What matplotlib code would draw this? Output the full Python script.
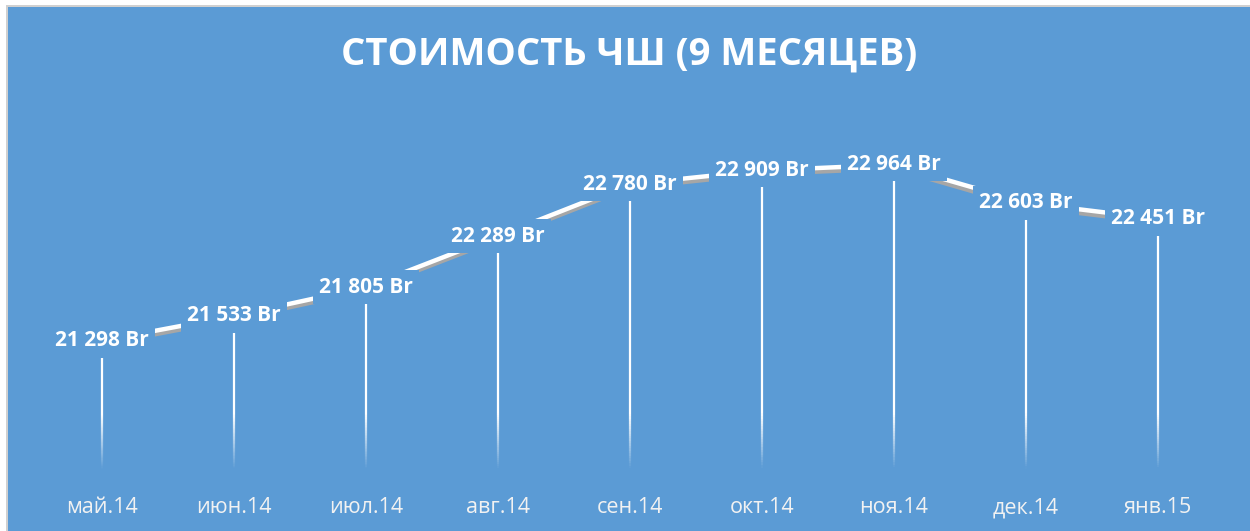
import numpy as np
import matplotlib
matplotlib.use('Agg')
import matplotlib.pyplot as plt
import matplotlib.patheffects as pe
from matplotlib.collections import LineCollection
from matplotlib.patches import Rectangle

''' Data '''
months = ['май.14', 'июн.14', 'июл.14', 'авг.14', 'сен.14',
          'окт.14', 'ноя.14', 'дек.14', 'янв.15']
cost = [21298, 21533, 21805, 22289, 22780, 22909, 22964, 22603, 22451]
labels = ['21 298 Br', '21 533 Br', '21 805 Br', '22 289 Br', '22 780 Br',
          '22 909 Br', '22 964 Br', '22 603 Br', '22 451 Br']
title = 'СТОИМОСТЬ ЧШ (9 МЕСЯЦЕВ)'

bg = '#5B9BD5'
plt.rcParams['font.family'] = ['Open Sans', 'DejaVu Sans']

fig = plt.figure(figsize=(12.5, 5.31), dpi=100, facecolor='white')
W, H = 1250.0, 531.0

''' Chart frame: white margin, thin grey border, blue fill '''
fig.patches.append(Rectangle((6 / W, 0), 1, 1 - 5 / H, transform=fig.transFigure,
                             facecolor='#D0D0D0', edgecolor='none', zorder=-2))
fig.patches.append(Rectangle((8 / W, 0), 1, 1 - 7 / H, transform=fig.transFigure,
                             facecolor=bg, edgecolor='none', zorder=-1))

ax = fig.add_axes([36 / W, 1 - 478 / H, (1224 - 36) / W, (478 - 108) / H])
ax.set_zorder(5)
ax.set_facecolor('none')
x = np.arange(len(months))
ax.set_xlim(-0.5, len(months) - 0.5)
ax.set_ylim(20000, 23500)

''' Drop lines fading towards the axis '''
for xi, v in zip(x, cost):
    ys = np.linspace(20000, v, 120)
    segs = [[(xi, ys[i]), (xi, ys[i + 1])] for i in range(len(ys) - 1)]
    alph = np.clip((ys[:-1] - 20080) / 520, 0, 1)
    cols = [(1, 1, 1, a) for a in alph]
    ax.add_collection(LineCollection(segs, colors=cols, linewidths=1.6, zorder=1))

''' Line with 3D-ish shadow '''
ax.plot(x, cost, color='white', lw=3.2, solid_capstyle='butt', zorder=2,
        path_effects=[pe.SimpleLineShadow(offset=(-0.6, -2.6), shadow_color='#A6A6A6',
                                          alpha=1, rho=1), pe.Normal()])

''' Data labels with blue background '''
for xi, v, t in zip(x, cost, labels):
    ax.text(xi, v, t, ha='center', va='center', color='white', fontsize=15,
            fontweight='bold', zorder=3,
            bbox=dict(boxstyle='square,pad=0.3', facecolor=bg, edgecolor='none'))

ax.set_xticks(x)
ax.set_xticklabels(months, color='#F2F2F2', fontsize=15.5)
ax.tick_params(axis='x', length=0, pad=14)
ax.set_yticks([])
for s in ax.spines.values():
    s.set_visible(False)

fig.text(629 / W, 1 - 55 / H, title, ha='center', va='center', color='white',
         fontsize=27.5, fontweight='bold', zorder=6)

fig.savefig('out.png', dpi=100, facecolor=fig.get_facecolor())
